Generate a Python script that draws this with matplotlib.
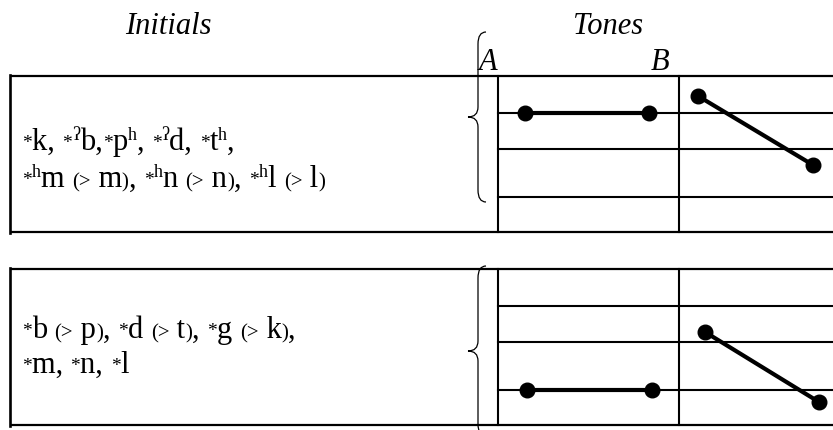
import matplotlib
matplotlib.use('Agg')
import matplotlib.pyplot as plt
from matplotlib.path import Path
from matplotlib.patches import PathPatch

plt.rcParams['font.family'] = ['Liberation Serif', 'DejaVu Serif']

W, H = 833, 431

# layout of the two rows (pixels, y down)
panel_tops = [77, 270]
panel_height = 156
row_lines = [37, 73, 121]          # inner staff lines, from panel top
col_x = [498, 679, W]              # tone columns

# tone contours: (x0, y0, x1, y1), x from column left, y from panel top
level_tones = [(27, 37, 151, 37), (29, 121, 154, 121)]
falling_tones = [(19, 20, 134, 89), (26, 63, 140, 133)]

# initials as runs: n = normal, a = asterisk, s = superscript, p = small parenthesis
top_lines = [
    [('*', 'a'), ('k, ', 'n'), ('*', 'a'), ('ʔ', 's'), ('b,', 'n'), ('*', 'a'), ('p', 'n'), ('h', 's'),
     (', ', 'n'), ('*', 'a'), ('ʔ', 's'), ('d, ', 'n'), ('*', 'a'), ('t', 'n'), ('h', 's'), (',', 'n')],
    [('*', 'a'), ('h', 's'), ('m ', 'n'), ('(>', 'p'), (' m', 'n'), (')', 'p'), (', ', 'n'),
     ('*', 'a'), ('h', 's'), ('n ', 'n'), ('(>', 'p'), (' n', 'n'), (')', 'p'), (', ', 'n'),
     ('*', 'a'), ('h', 's'), ('l ', 'n'), ('(>', 'p'), (' l', 'n'), (')', 'p')],
]
bottom_lines = [
    [('*', 'a'), ('b ', 'n'), ('(>', 'p'), (' p', 'n'), (')', 'p'), (', ', 'n'),
     ('*', 'a'), ('d ', 'n'), ('(>', 'p'), (' t', 'n'), (')', 'p'), (', ', 'n'),
     ('*', 'a'), ('g ', 'n'), ('(>', 'p'), (' k', 'n'), (')', 'p'), (',', 'n')],
    [('*', 'a'), ('m, ', 'n'), ('*', 'a'), ('n, ', 'n'), ('*', 'a'), ('l', 'n')],
]
text_baselines = [(150, 187), (338, 373)]

styles = {'n': (22, 0), 'a': (14, -2), 's': (13, -10), 'p': (15, 0)}

fig = plt.figure(figsize=(W / 100, H / 100), dpi=100)
ax = fig.add_axes([0, 0, 1, 1])
ax.set_xlim(0, W)
ax.set_ylim(H, 0)
ax.axis('off')
renderer = fig.canvas.get_renderer()


def text_width(s, size):
    t1 = ax.text(0, 0, s + '|', fontsize=size)
    t2 = ax.text(0, 0, '|', fontsize=size)
    w = t1.get_window_extent(renderer).width - t2.get_window_extent(renderer).width
    t1.remove()
    t2.remove()
    return w


def rich_line(x, y, runs):
    for s, kind in runs:
        size, dy = styles[kind]
        ax.text(x, y + dy, s, fontsize=size, va='baseline', ha='left', color='black')
        x += text_width(s, size)


def brace(x, top, bottom, tip_x):
    mid = (top + bottom) / 2
    verts = [(x + 8, top), (x, top), (x, top + 12),
             (x, mid - 10), (x, mid), (tip_x, mid),
             (x, mid), (x, mid + 10),
             (x, bottom - 12), (x, bottom), (x + 8, bottom)]
    codes = [Path.MOVETO, Path.CURVE3, Path.CURVE3,
             Path.LINETO, Path.CURVE3, Path.CURVE3,
             Path.CURVE3, Path.CURVE3,
             Path.LINETO, Path.CURVE3, Path.CURVE3]
    ax.add_patch(PathPatch(Path(verts, codes), fill=False, lw=0.9, color='black'))


for i, top in enumerate(panel_tops):
    bottom = top + panel_height
    ax.plot([10, W], [top, top], color='black', lw=1.6, solid_capstyle='butt')
    ax.plot([10, W], [bottom, bottom], color='black', lw=1.6, solid_capstyle='butt')
    ax.plot([10, 10], [top - 0.8, bottom + 0.8], color='black', lw=1.9)
    for cx in col_x[:2]:
        ax.plot([cx, cx], [top, bottom], color='black', lw=1.5)
    for r in row_lines:
        ax.plot([col_x[0], W], [top + r, top + r], color='black', lw=1.5)

    x0, y0, x1, y1 = level_tones[i]
    ax.plot([col_x[0] + x0, col_x[0] + x1], [top + y0, top + y1], color='black',
            lw=3, marker='o', markersize=10.5)
    x0, y0, x1, y1 = falling_tones[i]
    ax.plot([col_x[1] + x0, col_x[1] + x1], [top + y0, top + y1], color='black',
            lw=3, marker='o', markersize=10.5)

brace(478, 33, 203, 468)
brace(478, 267, 437, 468)

for runs, y in zip(top_lines, text_baselines[0]):
    rich_line(22, y, runs)
for runs, y in zip(bottom_lines, text_baselines[1]):
    rich_line(22, y, runs)

ax.text(168, 27, 'Initials', fontsize=22, style='italic', ha='center', va='center')
ax.text(608, 27, 'Tones', fontsize=22, style='italic', ha='center', va='center')
ax.text(488, 62, 'A', fontsize=22, style='italic', ha='center', va='center')
ax.text(660, 62, 'B', fontsize=22, style='italic', ha='center', va='center')

fig.savefig('out.png', dpi=100)
